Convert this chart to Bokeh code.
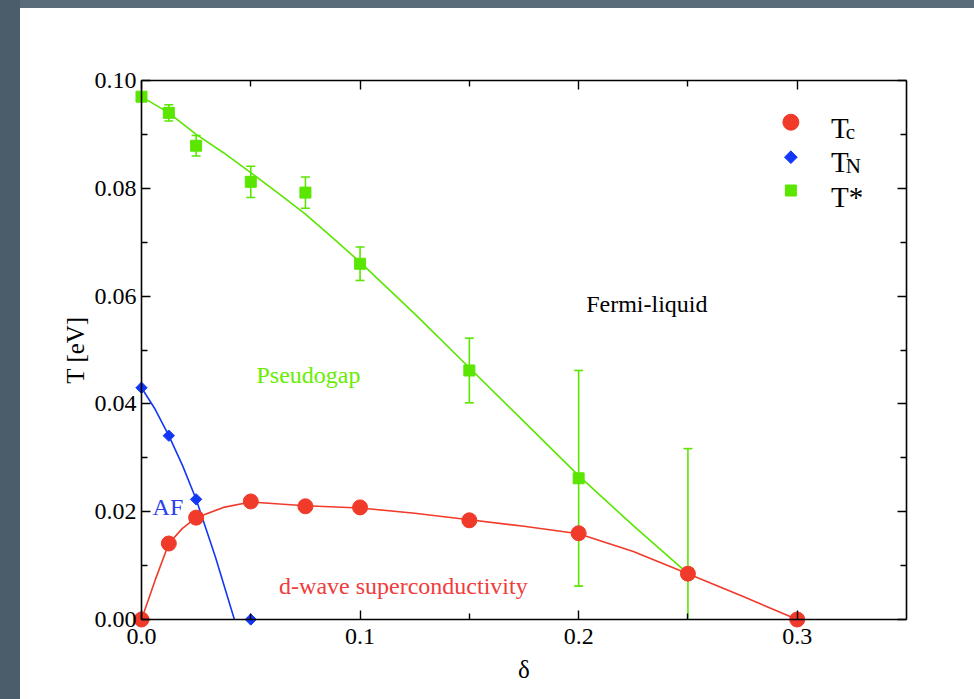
import numpy as np
from bokeh.plotting import figure
from bokeh.models import (LinearAxis, FixedTicker, Label, Range1d, NumeralTickFormatter, Div)
from bokeh.layouts import row, column
from bokeh.embed import file_html
from bokeh.resources import INLINE

# ---------------- data ----------------
delta_c = [0.0, 0.0125, 0.025, 0.05, 0.075, 0.1, 0.15, 0.2, 0.25, 0.3]
t_c = [0.0, 0.0141, 0.0189, 0.0219, 0.0210, 0.0208, 0.0184, 0.0160, 0.0085, 0.0]

delta_n = [0.0, 0.0125, 0.025, 0.05]
t_n = [0.0430, 0.0341, 0.0223, 0.0]

delta_star = [0.0, 0.0125, 0.025, 0.05, 0.075, 0.1, 0.15, 0.2, 0.25]
t_star = [0.0970, 0.0940, 0.0879, 0.0812, 0.0792, 0.0660, 0.0462, 0.0262, 0.0085]
t_star_err = [0.0, 0.0015, 0.0019, 0.0029, 0.0029, 0.0031, 0.0060, 0.0200, 0.0232]

# fitted curves drawn through the points
delta_fit_c = [0.0, 0.00625, 0.0125, 0.01875, 0.025, 0.0375, 0.05, 0.075, 0.1, 0.125, 0.15, 0.175, 0.2, 0.225, 0.25, 0.275, 0.3]
t_c_fit = [0.0, 0.0073, 0.0141, 0.0169, 0.0189, 0.0208, 0.0218, 0.0211, 0.0207, 0.0197, 0.0185, 0.0173, 0.0159, 0.0126, 0.0085, 0.0043, 0.0]

delta_fit_n = [0.0, 0.00625, 0.0125, 0.01875, 0.025, 0.03375, 0.0425]
t_n_fit = [0.0430, 0.0390, 0.0341, 0.0286, 0.0223, 0.0117, 0.0]

delta_fit_star = [0.0, 0.0125, 0.025, 0.0375, 0.05, 0.0625, 0.075, 0.0875, 0.1, 0.125, 0.15, 0.175, 0.2, 0.225, 0.25]
t_star_fit = [0.0970, 0.0940, 0.0900, 0.0866, 0.0829, 0.0791, 0.0752, 0.0708, 0.0663, 0.0567, 0.0467, 0.0367, 0.0267, 0.0174, 0.0085]

x_ticks = [0.0, 0.1, 0.2, 0.3]
x_minor = [0.05, 0.15, 0.25]
y_ticks = [0.0, 0.02, 0.04, 0.06, 0.08, 0.10]
y_minor = [0.01, 0.03, 0.05, 0.07, 0.09]

legend_names = ["T", "T", "T*"]
legend_subs = ["c", "N", ""]
region_texts = ["Fermi-liquid", "Pseudogap", "AF", "d-wave superconductivity"]

# ---------------- styles / layout ----------------
RED = "#f03a2a"
BLUE = "#1238f5"
GREEN = "#5ae600"
GREEN_TXT = "#66ee00"
RED_TXT = "#f03c3c"
BLUE_TXT = "#2a40f0"
FONT = "Liberation Serif"
DARK_LEFT = "#4b5d6b"
DARK_TOP = "#5a6c7a"

X_MIN, X_MAX = 0.0, 0.35
Y_MIN, Y_MAX = 0.0, 0.10
PX_X = 2186.7   # px per unit delta
PX_Y = 5390.0   # px per unit T
PAD = 10        # px of frame padding around the box, so edge markers are not clipped
fx = PAD / PX_X
fy = PAD / PX_Y

frame_w = int(round((X_MAX - X_MIN) * PX_X)) + 2 * PAD
frame_h = int(round((Y_MAX - Y_MIN) * PX_Y)) + 2 * PAD

p_fig = figure(frame_width=frame_w, frame_height=frame_h,
               x_range=Range1d(X_MIN - fx, X_MAX + fx),
               y_range=Range1d(Y_MIN - fy, Y_MAX + fy),
               output_backend="svg", toolbar_location=None,
               x_axis_type=None, y_axis_type=None,
               min_border_left=111, min_border_right=57,
               min_border_top=62, min_border_bottom=70)
p_fig.outline_line_color = None
p_fig.grid.visible = False
p_fig.background_fill_color = "white"
p_fig.border_fill_color = "white"


def box_axis(ax, ticks, minor):
    # axis line + inward ticks drawn exactly on the data box
    ax.ticker = FixedTicker(ticks=ticks, minor_ticks=minor)
    ax.axis_line_color = "black"
    ax.axis_line_width = 1.6
    ax.major_tick_line_color = "black"
    ax.minor_tick_line_color = "black"
    ax.major_tick_line_width = 1.4
    ax.minor_tick_line_width = 1.4
    ax.major_tick_in = 9
    ax.major_tick_out = 0
    ax.minor_tick_in = 6
    ax.minor_tick_out = 0
    ax.major_label_text_font_size = "0px"
    ax.major_label_text_alpha = 0


def label_axis(ax, ticks):
    # tick labels and axis title only
    ax.ticker = FixedTicker(ticks=ticks, minor_ticks=[])
    ax.axis_line_color = None
    ax.major_tick_line_color = None
    ax.minor_tick_line_color = None
    ax.major_tick_in = 0
    ax.major_tick_out = 0
    ax.minor_tick_in = 0
    ax.minor_tick_out = 0
    ax.major_label_text_font = FONT
    ax.major_label_text_font_size = "24px"
    ax.major_label_text_color = "black"
    ax.axis_label_text_font = FONT
    ax.axis_label_text_font_size = "25px"
    ax.axis_label_text_font_style = "normal"
    ax.axis_label_text_color = "black"


for loc, fixed, bnds, tk, mn in [("below", Y_MIN, (X_MIN, X_MAX), x_ticks, x_minor),
                                  ("above", Y_MAX, (X_MIN, X_MAX), x_ticks, x_minor),
                                  ("left", X_MIN, (Y_MIN, Y_MAX), y_ticks, y_minor),
                                  ("right", X_MAX, (Y_MIN, Y_MAX), y_ticks, y_minor)]:
    ax = LinearAxis(fixed_location=fixed, bounds=bnds)
    box_axis(ax, tk, mn)
    p_fig.add_layout(ax, loc)

xl = LinearAxis(axis_label="δ")
label_axis(xl, x_ticks)
xl.formatter = NumeralTickFormatter(format="0.0")
xl.major_label_standoff = -1
xl.axis_label_standoff = 9
p_fig.add_layout(xl, "below")

yl = LinearAxis(axis_label="T [eV]")
label_axis(yl, y_ticks)
yl.formatter = NumeralTickFormatter(format="0.00")
yl.major_label_standoff = -5
yl.axis_label_standoff = 3
p_fig.add_layout(yl, "left")

# ---------------- error bars for T* ----------------
ts = np.array(t_star)
te = np.array(t_star_err)
ds = np.array(delta_star)
upper = ts + te
lower = np.maximum(ts - te, Y_MIN)
has_err = te > 0
p_fig.segment(x0=ds[has_err], y0=lower[has_err], x1=ds[has_err], y1=upper[has_err],
              line_color=GREEN, line_width=1.6)
p_fig.scatter(x=ds[has_err], y=upper[has_err], marker="dash", size=9,
              line_color=GREEN, line_width=1.6)
low_cap = has_err & (ts - te >= Y_MIN)
p_fig.scatter(x=ds[low_cap], y=(ts - te)[low_cap], marker="dash", size=9,
              line_color=GREEN, line_width=1.6)

# ---------------- fitted curves ----------------
p_fig.line(delta_fit_star, t_star_fit, line_color=GREEN, line_width=1.6)
p_fig.line(delta_fit_c, t_c_fit, line_color=RED, line_width=1.6)
p_fig.line(delta_fit_n, t_n_fit, line_color=BLUE, line_width=1.6)

# ---------------- data markers ----------------
p_fig.scatter(delta_star, t_star, marker="square", size=11, fill_color=GREEN, line_color=GREEN)
p_fig.scatter(delta_c, t_c, marker="circle", size=15, fill_color=RED, line_color=RED)
p_fig.scatter(delta_n, t_n, marker="square", angle=np.pi / 4, size=8,
              fill_color=BLUE, line_color=BLUE)

# ---------------- region labels ----------------
region_pos = [(0.2312, 0.0586), (0.0764, 0.0453), (0.0121, 0.0208), (0.1198, 0.0063)]
region_col = ["black", GREEN_TXT, BLUE_TXT, RED_TXT]
for txt, (x, y), c in zip(region_texts, region_pos, region_col):
    p_fig.add_layout(Label(x=x, y=y, text=txt, text_font=FONT, text_font_size="24px",
                           text_color=c, text_align="center", text_baseline="alphabetic"))

# ---------------- legend (drawn by hand for the subscripts) ----------------
leg_mx = 0.2971
leg_my = [0.09226, 0.08577, 0.07959]
leg_markers = [("circle", 16, RED, 0.0), ("square", 9, BLUE, np.pi / 4), ("square", 11, GREEN, 0.0)]
for (mk, sz, col, ang), y in zip(leg_markers, leg_my):
    p_fig.scatter([leg_mx], [y], marker=mk, size=sz, angle=ang, fill_color=col, line_color=col)

leg_tx = 0.3155
leg_ty = [0.09122, 0.08484, 0.07835]
leg_sx = 0.3222
leg_sy = [0.0904, 0.0842, 0.0]
for name, sub, ty, sy in zip(legend_names, legend_subs, leg_ty, leg_sy):
    p_fig.add_layout(Label(x=leg_tx, y=ty, text=name, text_font=FONT, text_font_size="29px",
                           text_color="black", text_align="left", text_baseline="alphabetic"))
    if sub:
        p_fig.add_layout(Label(x=leg_sx, y=sy, text=sub, text_font=FONT, text_font_size="21px",
                               text_color="black", text_align="left", text_baseline="alphabetic"))

# ---------------- slide background strips ----------------
left_strip = Div(width=20, height=699, margin=0,
                 styles={"background-color": DARK_LEFT})
top_strip = Div(width=954, height=8, margin=0,
                styles={"background-color": DARK_TOP})
p = row(left_strip, column(top_strip, p_fig, spacing=0), spacing=0)

open("out.html", "w").write(file_html(p, INLINE))
